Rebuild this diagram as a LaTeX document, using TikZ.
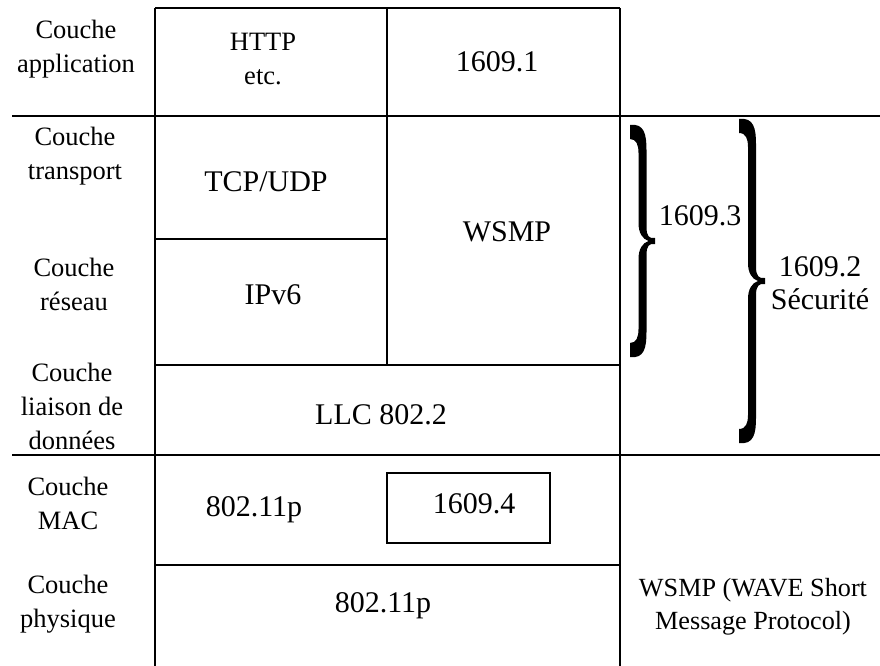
\documentclass[tikz,border=0pt]{standalone}
\usepackage{fontspec}
\setmainfont{Liberation Serif}

% right curly brace, tip at the pic origin: half height / width
\tikzset{
  pics/accolade/.style args={#1/#2}{code={
    \fill ({-#2},{-#1})
      .. controls ({-#2/2+2},{-#1-2}) and ({-#2/2+4},{-#1+10}) .. ({-#2/2+4},{-#1+25})
      -- ({-#2/2+4},-14)
      .. controls ({-#2/2+4},-5) and (-6,-2) .. (0,-3)
      -- (0,3)
      .. controls (-6,2) and ({-#2/2+4},5) .. ({-#2/2+4},14)
      -- ({-#2/2+4},{#1-25})
      .. controls ({-#2/2+4},{#1-10}) and ({-#2/2+2},{#1+2}) .. ({-#2},{#1})
      -- ({-#2},{#1-14})
      .. controls ({-#2/2-6},{#1-14}) and ({-#2/2-4},{#1-20}) .. ({-#2/2-4},{#1-28})
      -- ({-#2/2-4},18)
      .. controls ({-#2/2-4},8) and ({-#2/2},2) .. ({-#2/2+6},0)
      .. controls ({-#2/2},-2) and ({-#2/2-4},-8) .. ({-#2/2-4},-18)
      -- ({-#2/2-4},{-#1+28})
      .. controls ({-#2/2-4},{-#1+20}) and ({-#2/2-6},{-#1+14}) .. ({-#2},{-#1+14})
      -- cycle;
  }}
}

\begin{document}
\begin{tikzpicture}[
    x=1pt, y=-1pt,
    % text styles
    base/.style={align=center, inner sep=0pt},
    couche/.style={base, font=\fontsize{26.5}{34}\selectfont},
    proto/.style={base, font=\fontsize{30}{33}\selectfont},
    note/.style={base, font=\fontsize{26.2}{33}\selectfont},
    % line styles
    rule/.style={line width=2.6pt},
    petit/.style={line width=2pt}
]
\useasboundingbox (0,0) rectangle (880,666);

%% -- Grid ---------------------------------------------------
\draw [rule] (155,8) -- (620,8);
\draw [rule] (155,8) -- (155,666);
\draw [rule] (620,8) -- (620,666);
\draw [rule] (387,8) -- (387,365);
\draw [rule] (12,116) -- (880,116);
\draw [rule] (155,239) -- (387,239);
\draw [rule] (155,365) -- (620,365);
\draw [rule] (12,455) -- (880,455);
\draw [rule] (155,565) -- (620,565);

%% -- Layer names --------------------------------------------
\node (lapp)  [couche] at (76,49)   {Couche\\application};
\node (ltrp)  [couche] at (75,156)  {Couche\\transport};
\node (lres)  [couche] at (74,284)  {Couche\\réseau};
\node (lliai) [couche] at (72,406)  {Couche\\liaison de\\données};
\node (lmac)  [couche] at (68,503)  {Couche\\MAC};
\node (lphy)  [couche] at (68,604)  {Couche\\physique};

%% -- Protocols ----------------------------------------------
\node (http) [couche] at (263,59)  {HTTP\\etc.};
\node (p1)   [proto]  at (497,62)  {1609.1};
\node (tcp)  [proto]  at (266,182) {TCP/UDP};
\node (ipv6) [proto]  at (273,295) {IPv6};
\node (wsmp) [proto]  at (507,232) {WSMP};
\node (llc)  [proto]  at (381,415) {LLC 802.2};
\node (mac)  [proto]  at (254,510) {802.11p};
\node (phy)  [proto]  at (383,606) {802.11p};

\draw [petit] (387,473) rectangle (550,543);
\node (p4) [proto] at (474,504) {1609.4};

%% -- Braces -------------------------------------------------
\pic (b3) at (655,241) {accolade=116/25};
\pic (b2) at (765,281) {accolade=162/26};

\node (p3) [proto] at (700,216) {1609.3};
\node (p2) [proto] at (820,283) {1609.2\\Sécurité};

\node (legende) [note] at (753,607) {WSMP (WAVE Short\\Message Protocol)};

\end{tikzpicture}
\end{document}
